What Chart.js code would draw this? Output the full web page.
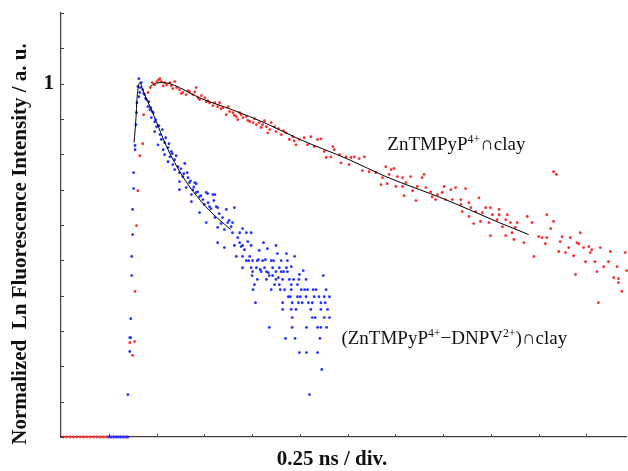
<!DOCTYPE html>
<html>
<head>
<meta charset="utf-8">
<script src="https://cdn.jsdelivr.net/npm/chart.js@4/dist/chart.umd.min.js"></script>
<style>
  html, body { margin: 0; padding: 0; background: #fff; }
  #wrap { width: 628px; height: 471px; position: relative; }
</style>
</head>
<body>
<div id="wrap"><canvas id="decay"></canvas></div>
<script>
// x = time in divisions (0.25 ns / div), y = ln of normalized intensity (0 -> "1")

// ZnTMPyP4+ on clay (red dots)
const redTime = [
  0.05, 0.12, 0.19, 0.26, 0.33, 0.40, 0.47, 0.54, 0.61, 0.68, 0.75, 0.82, 0.89, 0.96, 1.03, 1.10, 1.17, 1.24, 1.31, 1.38,
  1.44, 1.50, 1.54, 1.55, 1.58, 1.61, 1.65, 1.71, 1.73, 1.82, 1.87, 1.91, 1.96, 2.01, 2.07, 2.10, 2.17, 2.21, 2.28, 2.31,
  2.38, 2.42, 2.48, 2.55, 2.62, 2.69, 2.76, 2.80, 2.83, 2.87, 2.90, 3.01, 3.04, 3.11, 3.22, 3.28, 3.32, 3.39, 3.46, 3.53,
  3.60, 3.67, 3.70, 3.74, 3.81, 3.88, 3.95, 4.02, 4.09, 4.15, 4.22, 4.30, 4.33, 4.40, 4.47, 4.50, 4.61, 4.71, 4.78, 4.85,
  4.92, 4.99, 5.09, 5.16, 5.23, 5.30, 5.37, 5.44, 5.51, 5.55, 5.65, 5.69, 5.72, 5.83, 5.86, 5.97, 6.03, 6.07, 6.14, 6.24,
  6.31, 6.35, 6.45, 6.59, 6.70, 6.73, 6.80, 6.83, 6.87, 6.91, 6.97, 7.01, 7.04, 7.15, 7.15, 7.18, 7.22, 7.32, 7.36, 7.43,
  7.46, 7.56, 7.60, 7.64, 7.74, 7.77, 7.84, 7.88, 7.98, 8.02, 8.05, 8.16, 8.19, 8.26, 8.37, 8.37, 8.40, 8.47, 8.54, 8.54,
  8.58, 8.64, 8.68, 8.75, 8.78, 8.82, 8.89, 8.96, 8.99, 8.99, 9.03, 9.13, 9.17, 9.17, 9.24, 9.31, 9.31, 9.34, 9.41, 9.44,
  9.48, 9.51, 9.55, 9.69, 9.76, 9.86, 9.90, 10.00, 10.07, 10.14, 10.17, 10.17, 10.25, 10.31, 10.31, 10.37, 10.42, 10.45, 10.49, 10.56,
  10.63, 10.66, 10.73, 10.77, 10.80, 10.84, 10.87, 10.94, 10.98, 11.05, 11.08, 11.11, 11.18, 11.22, 11.25, 11.29, 11.36, 11.46, 11.50, 11.57,
  11.64, 11.67, 11.67, 11.74, 11.81, 11.84,
  // extra points near the top of the red decay
  2.04, 2.14, 2.34, 2.52, 2.66, 2.94, 3.07, 3.18, 3.35, 3.50, 3.63, 3.77, 3.91, 4.05, 4.19, 4.26, 4.37, 4.55, 4.66, 4.88
]
const redLn = [
  -10, -10, -10, -10, -10, -10, -10, -10, -10, -10, -10, -10, -10, -10, -10, -10, -10, -10, -10, -10,
  -7.33, -7.69, -7.30, -5.88, -4.02, -3.03, -2.04, -1.70, -0.88, -0.25, -0.11, 0.03, -0.03, 0.06, 0.14, 0.06, 0.03, -0.03, 0.03, -0.06,
  0.06, -0.11, -0.17, -0.25, -0.31, -0.23, -0.31, -0.23, -0.11, -0.40, -0.45, -0.40, -0.51, -0.54, -0.54, -0.65, -0.54, -0.68, -0.88, -0.79,
  -0.82, -0.93, -1.02, -0.82, -0.96, -0.93, -1.07, -1.10, -1.16, -1.10, -1.16, -1.22, -1.39, -1.10, -1.22, -1.36, -1.44, -1.39, -1.58, -1.50,
  -1.73, -1.58, -1.53, -1.73, -1.50, -1.78, -1.58, -1.56, -1.92, -2.09, -2.07, -1.78, -1.87, -2.01, -2.24, -2.07, -2.29, -2.09, -2.07, -2.12,
  -2.46, -2.07, -2.49, -2.52, -2.86, -2.66, -2.35, -2.83, -2.57, -2.43, -2.40, -2.91, -2.63, -2.66, -2.91, -3.17, -2.80, -2.63, -3.03, -3.31,
  -2.91, -2.66, -2.57, -2.94, -3.06, -3.20, -3.28, -3.14, -3.08, -2.91, -3.28, -3.00, -3.28, -2.94, -3.28, -3.42, -3.62, -2.97, -3.37, -3.76,
  -3.51, -3.96, -3.62, -3.23, -3.90, -3.65, -3.51, -3.93, -3.51, -4.30, -3.71, -3.85, -3.56, -3.71, -4.05, -3.85, -4.30, -3.71, -3.93, -4.22,
  -4.41, -4.07, -3.93, -4.50, -3.76, -3.93, -4.89, -4.33, -4.36, -4.53, -3.71, -4.36, -4.10, -2.49, -3.90, -2.57, -4.75, -4.47, -4.33, -4.78,
  -4.64, -4.36, -4.87, -5.40, -4.50, -4.53, -4.22, -4.64, -5.04, -4.61, -4.78, -4.70, -5.04, -5.32, -6.20, -4.64, -5.18, -5.04, -4.75, -5.49,
  -5.18, -5.52, -5.63, -5.88, -4.78, -5.29,
  0.11, -0.06, -0.14, -0.28, -0.20, -0.34, -0.48, -0.62, -0.71, -0.65, -0.90, -0.88, -1.04, -0.99, -1.24, -1.05, -1.30, -1.27, -1.33, -1.62
]

// (ZnTMPyP4+ - DNPV2+) on clay (blue dots)
const blueTime = [
  1.00, 1.05, 1.10, 1.15, 1.20, 1.25, 1.30, 1.35, 1.40,
  1.40, 1.44, 1.44, 1.46, 1.46, 1.48, 1.48, 1.50, 1.50, 1.52, 1.52, 1.55, 1.55, 1.57, 1.58, 1.59, 1.61, 1.63, 1.63, 1.65, 1.68,
  1.71, 1.75, 1.79, 1.82, 1.86, 1.89, 1.93, 1.96, 1.96, 2.00, 2.03, 2.07, 2.10, 2.14, 2.17, 2.17, 2.24, 2.24, 2.28, 2.31,
  2.34, 2.38, 2.38, 2.45, 2.48, 2.48, 2.48, 2.55, 2.59, 2.62, 2.66, 2.69, 2.73, 2.73, 2.76, 2.80, 2.83, 2.83, 2.90, 2.90,
  2.97, 3.04, 3.04, 3.07, 3.08, 3.11, 3.18, 3.22, 3.22, 3.25, 3.28, 3.28, 3.28, 3.38, 3.42, 3.42, 3.46, 3.49, 3.59, 3.59,
  3.63, 3.63, 3.67, 3.74, 3.74, 3.80, 3.80, 3.80, 3.80, 3.84, 3.88, 3.88, 3.95, 3.98, 3.98, 3.98, 4.00, 4.01, 4.01, 4.02,
  4.05, 4.07, 4.09, 4.11, 4.11, 4.15, 4.19, 4.22, 4.24, 4.26, 4.30, 4.30, 4.32, 4.36, 4.36, 4.40, 4.40, 4.43, 4.43, 4.47,
  4.50, 4.50, 4.50, 4.53, 4.57, 4.57, 4.61, 4.61, 4.64, 4.64, 4.64, 4.68, 4.70, 4.72, 4.72, 4.74, 4.74, 4.76, 4.78, 4.82,
  4.82, 4.82, 4.82, 4.84, 4.84, 4.84, 4.89, 4.90, 4.92, 4.95, 4.95, 4.98, 4.99, 4.99, 5.03, 5.05, 5.07, 5.13, 5.13, 5.14,
  5.14, 5.16, 5.20, 5.23, 5.26, 5.26, 5.30, 5.34, 5.37, 5.37, 5.42, 5.44, 5.44, 5.44, 5.46, 5.49, 5.51, 5.51, 5.55, 5.56,
  5.62, 5.62,
  // extra points in the dense part of the blue decay
  1.66, 1.73, 1.77, 1.84, 1.88, 1.91, 1.98, 2.05, 2.12, 2.19, 2.26, 2.33, 2.41, 2.51, 2.57, 2.64, 2.71, 2.78, 2.86, 2.93,
  3.00, 3.14, 3.20, 3.31, 3.35, 3.52, 3.56, 3.70, 3.77, 3.91, 3.93, 4.13, 4.17, 4.28, 4.34, 4.45, 4.55, 4.59, 4.66, 4.80,
  4.87, 4.97, 5.01, 5.10, 5.18, 5.28, 5.32, 5.40, 5.53, 5.58
]
const blueLn = [
  -10, -10, -10, -10, -10, -10, -10, -10, -10,
  -8.80, -7.58, -7.19, -7.19, -6.65, -5.43, -4.89, -4.27, -3.56, -2.97, -2.52, -1.87, -1.75, -1.16, -0.82, -0.54, -0.08, 0.14, -0.37, -0.25, 0.03,
  -0.17, -0.31, -0.45, -0.65, -0.74, -0.96, -0.82, -1.08, -1.36, -1.22, -1.73, -1.44, -1.58, -1.87, -1.67, -2.01, -1.81, -2.21, -2.07, -1.92,
  -2.29, -2.15, -2.43, -2.35, -2.52, -2.77, -3.00, -2.63, -2.26, -2.94, -2.66, -2.80, -3.14, -3.34, -3.00, -2.80, -3.08, -2.83, -3.20, -3.65,
  -3.28, -3.08, -3.93, -3.11, -3.37, -3.48, -3.14, -3.14, -3.79, -3.48, -3.51, -4.07, -4.50, -3.79, -4.13, -4.64, -3.56, -3.93, -3.93, -4.22,
  -3.51, -4.58, -4.89, -4.22, -4.50, -4.10, -4.58, -4.89, -5.21, -4.70, -4.22, -5.01, -4.89, -4.22, -4.58, -5.21, -5.43, -5.01, -5.32, -5.83,
  -5.69, -6.20, -5.21, -5.01, -5.54, -4.72, -5.32, -5.01, -4.50, -5.21, -5.32, -5.54, -4.67, -5.43, -6.90, -5.01, -5.83, -5.21, -5.43, -5.69,
  -4.58, -5.32, -5.54, -4.81, -5.21, -5.69, -5.01, -5.32, -5.54, -6.20, -6.39, -5.83, -7.21, -4.81, -5.21, -5.01, -5.32, -6.03, -5.54, -5.18,
  -5.69, -5.83, -6.39, -6.90, -6.20, -6.62, -4.89, -7.21, -6.39, -6.03, -5.69, -5.54, -5.40, -7.61, -5.83, -6.20, -5.29, -5.54, -6.03, -6.90,
  -7.61, -5.83, -8.80, -6.39, -6.20, -6.62, -6.03, -5.83, -6.90, -7.61, -7.21, -6.20, -6.39, -6.90, -8.09, -5.43, -6.03, -6.62, -5.83, -6.90,
  -6.03, -6.62,
  -0.11, -0.28, -0.42, -0.51, -0.68, -0.79, -1.02, -1.19, -1.30, -1.53, -1.70, -1.98, -2.04, -2.41, -2.55, -2.52, -2.75, -2.92, -3.06, -3.17,
  -3.42, -3.54, -3.31, -3.68, -3.96, -3.87, -4.05, -4.36, -4.61, -4.47, -5.01, -4.98, -5.26, -4.98, -5.35, -5.01, -5.49, -5.83, -5.32, -6.03,
  -5.54, -6.20, -6.03, -5.83, -6.20, -5.83, -6.62, -6.03, -6.20, -6.39
]

// fitted curves (black lines)
const redFitTime = [1.87, 1.96, 2.13, 2.28, 2.48, 2.90, 3.59, 4.30, 4.97, 6.03, 6.80, 8.05, 9.17, 9.79]
const redFitLn = [-0.08, 0.00, 0.03, 0.00, -0.11, -0.40, -0.74, -1.13, -1.56, -2.15, -2.63, -3.28, -3.93, -4.27]
const blueFitTime = [1.53, 1.57, 1.59, 1.62, 1.65, 1.67, 1.71, 1.92, 2.21, 2.55, 3.03, 3.55]
const blueFitLn = [-1.67, -0.96, -0.45, -0.08, 0.03, 0.00, -0.17, -0.82, -1.78, -2.63, -3.48, -4.13]

const xTicks = [1, 2, 3, 4, 5, 6, 7, 8, 9, 10, 11]
const yTicks = [-10, -9, -8, -7, -6, -5, -4, -3, -2, -1, 0, 1, 2]

// annotation anchors in data units (left end, text baseline)
const labelSingle = { x: 6.83, y: -1.87, parts: [{ t: 'ZnTMPyP' }, { t: '4+', sup: true }, { t: '\u2229clay' }] }
const labelPair = { x: 5.87, y: -7.36, parts: [{ t: '(ZnTMPyP' }, { t: '4+', sup: true }, { t: '\u2212DNPV' }, { t: '2+', sup: true }, { t: ')\u2229clay' }] }

const zip = (xs, ys) => xs.map((x, i) => ({ x: x, y: ys[i] }))

const drawRich = (ctx, parts, x, y, size) => {
  let cx = x
  parts.forEach(p => {
    const s = p.sup ? size * 0.62 : size
    ctx.font = `${s}px "Liberation Serif", "DejaVu Serif", serif`
    ctx.fillText(p.t, cx, p.sup ? y - size * 0.36 : y)
    cx += ctx.measureText(p.t).width
  })
}

const decor = {
  id: 'decor',
  afterDraw(chart) {
    const { ctx, chartArea, scales } = chart
    const x = scales.x
    const y = scales.y
    ctx.save()
    // inward tick marks
    ctx.strokeStyle = '#404040'
    ctx.lineWidth = 1
    yTicks.forEach(v => {
      const py = Math.round(y.getPixelForValue(v)) + 0.5
      ctx.beginPath()
      ctx.moveTo(chartArea.left, py)
      ctx.lineTo(chartArea.left + 3, py)
      ctx.stroke()
    })
    xTicks.forEach(v => {
      const px = Math.round(x.getPixelForValue(v)) + 0.5
      ctx.beginPath()
      ctx.moveTo(px, chartArea.bottom)
      ctx.lineTo(px, chartArea.bottom - 3)
      ctx.stroke()
    })

    // axis titles
    ctx.fillStyle = '#111'
    ctx.textAlign = 'center'
    ctx.textBaseline = 'middle'
    ctx.font = 'bold 21px "Liberation Serif", serif'
    ctx.fillText('0.25 ns / div.', 332, 460)
    ctx.translate(21, 244)
    ctx.rotate(-Math.PI / 2)
    ctx.fillText('Normalized  Ln Fluorescence Intensity / a. u.', 0, 0)
    ctx.setTransform(1, 0, 0, 1, 0, 0)

    // curve labels
    ctx.textAlign = 'left'
    ctx.textBaseline = 'alphabetic'
    ctx.fillStyle = '#111'
    ;[labelSingle, labelPair].forEach(l => {
      drawRich(ctx, l.parts, x.getPixelForValue(l.x), y.getPixelForValue(l.y), 19)
    })
    ctx.restore()
  }
}

const dots = (data, color, order) => ({
  data: data,
  backgroundColor: color,
  borderWidth: 0,
  pointRadius: 1.4,
  pointHoverRadius: 1.4,
  clip: false,
  order: order
})

const fit = (data) => ({
  data: data,
  showLine: true,
  borderColor: '#000',
  borderWidth: 1,
  pointRadius: 0,
  cubicInterpolationMode: 'monotone',
  clip: false,
  order: 0
})

// kill the half-label padding Chart.js adds so the plot box is exact
const noPad = (scale) => {
  scale.paddingTop = 0
  scale.paddingBottom = 0
  scale.paddingLeft = 0
  scale.paddingRight = 0
}

const ctx = document.getElementById('decay').getContext('2d')
const chart = new Chart(ctx, {
  type: 'scatter',
  data: {
    datasets: [
      dots(zip(redTime, redLn), '#ff2a2a', 2),
      dots(zip(blueTime, blueLn), '#2233ff', 1),
      fit(zip(redFitTime, redFitLn)),
      fit(zip(blueFitTime, blueFitLn))
    ]
  },
  options: {
    responsive: true,
    maintainAspectRatio: false,
    animation: false,
    layout: { padding: { top: 13, right: 0, bottom: 0, left: 0 } },
    plugins: {
      legend: false,
      tooltip: { enabled: false }
    },
    scales: {
      x: {
        type: 'linear',
        min: 0,
        max: 11.84,
        grid: { display: false, drawTicks: false },
        border: { display: true, color: '#404040', width: 1.2 },
        ticks: { display: false, stepSize: 1 },
        afterFit: (scale) => { scale.height = 34; noPad(scale) }
      },
      y: {
        type: 'linear',
        min: -10,
        max: 2,
        grid: { display: false, drawTicks: false },
        border: { display: true, color: '#404040', width: 1.2 },
        ticks: {
          stepSize: 1,
          padding: 7,
          color: '#111',
          font: { family: '"Liberation Serif", serif', size: 21, weight: 'bold' },
          callback: (v) => Math.abs(v) < 1e-9 ? '1' : ''
        },
        afterFit: (scale) => { scale.width = 61; noPad(scale) }
      }
    }
  },
  plugins: [decor]
})
</script>
</body>
</html>
